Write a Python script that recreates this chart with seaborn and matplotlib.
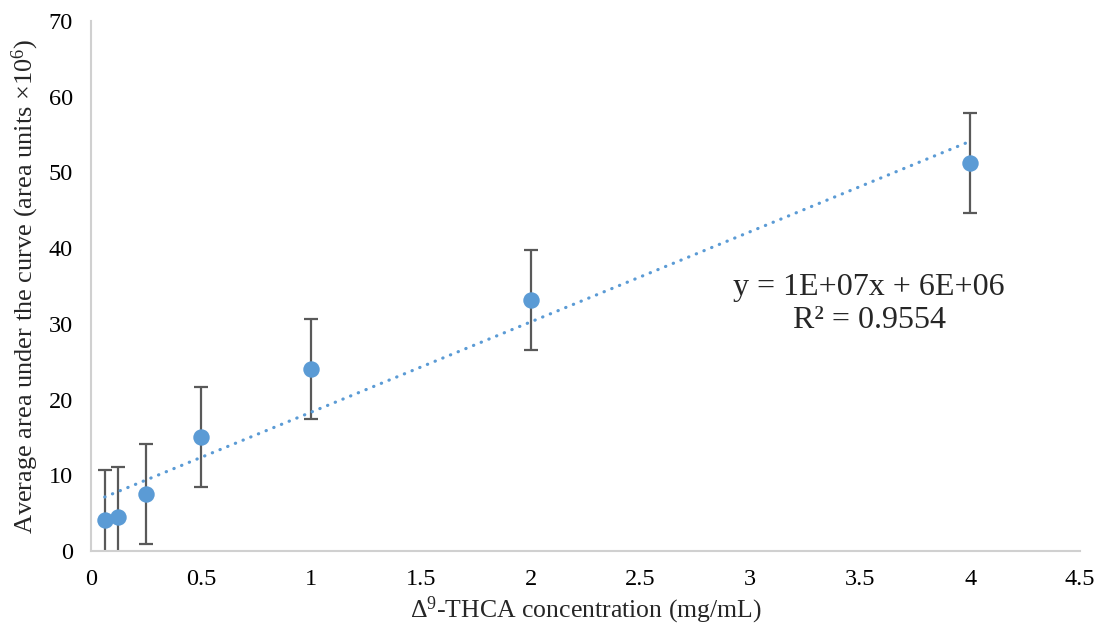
import numpy as np
import pandas as pd
import seaborn as sns
import matplotlib.pyplot as plt

# Concentration (mg/mL) and mean AUC (area units x10^6), error +/- values
conc = [0.0625, 0.125, 0.25, 0.5, 1, 2, 4]
auc = [4.1, 4.5, 7.5, 15.0, 24.0, 33.1, 51.2]
err = [6.6, 6.6, 6.6, 6.6, 6.6, 6.6, 6.6]
equation = "y = 1E+07x + 6E+06\nR² = 0.9554"

df = pd.DataFrame({'conc': conc, 'auc': auc, 'err': err})

sns.set_style('white')
plt.rcParams['font.family'] = ['Liberation Serif', 'DejaVu Serif']
plt.rcParams['mathtext.fontset'] = 'custom'
plt.rcParams['mathtext.rm'] = 'Liberation Serif'
plt.rcParams['mathtext.it'] = 'Liberation Serif:italic'

blue = '#5B9BD5'

fig = plt.figure(figsize=(10.99, 6.3), dpi=100)
ax = fig.add_axes([0.0828, 0.1254, 0.8999, 0.8413])

# error bars
ax.errorbar(df['conc'], df['auc'], yerr=df['err'], fmt='none', ecolor='#595959',
            elinewidth=1.6, capsize=4.8, capthick=1.6, zorder=2)

# linear trendline
sns.regplot(data=df, x='conc', y='auc', scatter=False, ci=None, ax=ax,
            line_kws=dict(color=blue, lw=2.3, ls=(0, (0.1, 2.5)),
                          dash_capstyle='round', zorder=3))

sns.scatterplot(data=df, x='conc', y='auc', ax=ax, color=blue, s=140,
                edgecolor=blue, linewidth=0, zorder=4)

ax.text(3.54, 32.6, equation, ha='center', va='center', fontsize=23,
        linespacing=1.2)

ax.set_xlim(0, 4.5)
ax.set_ylim(0, 70)
ax.set_xticks(np.arange(0, 4.6, 0.5))
ax.set_xticklabels(['0', '0.5', '1', '1.5', '2', '2.5', '3', '3.5', '4', '4.5'])
ax.set_yticks(range(0, 71, 10))
ax.tick_params(axis='both', length=0, labelsize=17.5, colors='black')
ax.tick_params(axis='x', pad=13)
ax.tick_params(axis='y', pad=13)

ax.set_xlabel(r'$\Delta^{\mathrm{9}}$-THCA concentration (mg/mL)', fontsize=18.5, va='center')
ax.set_ylabel(r'Average area under the curve (area units $\times$10$^{\mathrm{6}}$)',
              fontsize=19, va='center')
ax.xaxis.set_label_coords(0.5, -0.112)
ax.yaxis.set_label_coords(-0.066, 0.5)

for side in ['top', 'right']:
    ax.spines[side].set_visible(False)
for side in ['left', 'bottom']:
    ax.spines[side].set_color('#D0D0D0')
    ax.spines[side].set_linewidth(1.5)

fig.savefig('out.png', dpi=100)
